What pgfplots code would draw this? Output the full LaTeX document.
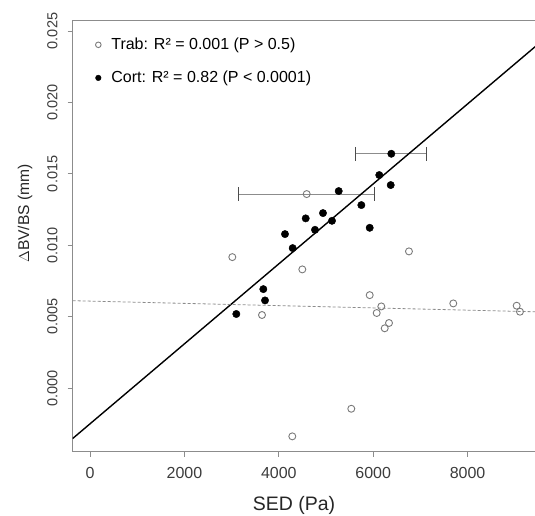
\documentclass[border=0pt]{standalone}
\usepackage{fontspec}
\setmainfont{Liberation Sans}
\usepackage{pgfplots}
\pgfplotsset{compat=1.18}

\definecolor{axgray}{HTML}{8C8C8C}
\definecolor{ptgray}{HTML}{7A7A7A}
\definecolor{txtgray}{HTML}{3C3C3C}

\begin{document}
\begin{tikzpicture}
\begin{axis}[
    name=ax,
    scale only axis,
    width=465.3pt, height=431pt,
    xmin=-367, xmax=9492,
    ymin=-0.004434, ymax=0.02572,
    xtick={0,2000,4000,6000,8000},
    ytick={0,0.005,0.010,0.015,0.020,0.025},
    scaled y ticks=false,
    /pgf/number format/assume math mode=true,
    xticklabel style={/pgf/number format/1000 sep={}, anchor=north, inner sep=0pt,
                      font=\fontsize{16}{16}\selectfont},
    yticklabel style={/pgf/number format/fixed, /pgf/number format/fixed zerofill,
                      /pgf/number format/precision=3, rotate=90, anchor=south, inner sep=0pt,
                      font=\fontsize{14.5}{14.5}\selectfont},
    xticklabel shift=10.8pt,
    yticklabel shift=10pt,
    tick label style={text=txtgray},
    tick align=outside,
    xtick pos=left, ytick pos=left,
    major tick length=5pt,
    tick style={axgray, line width=0.9pt},
    axis line style={axgray, line width=0.9pt},
    xlabel={SED (Pa)},
    ylabel={$\Delta$BV/BS (mm)},
    every axis x label/.style={at={(axis description cs:0.4756,0)}, anchor=center,
                               yshift=-53.3pt, font=\fontsize{19.5}{19.5}\selectfont, text=black!85},
    every axis y label/.style={at={([xshift=-47.7pt]axis description cs:0,0.5527)}, anchor=center,
                               rotate=90, font=\fontsize{15.6}{15.6}\selectfont, text=black!85},
    legend cell align=left,
    legend image code/.code={
      \path[draw=none] (0pt,0pt) -- (19pt,0pt);
      \draw[#1, draw=none, mark size=2.8pt, mark indices={2}]
        plot coordinates {(0pt,0pt) (8pt,0pt) (19pt,0pt)};
    },
    legend style={draw=none, fill=none, at={(axis description cs:0.031,0.969)}, anchor=north west,
                  font=\fontsize{16}{16}\selectfont, row sep=16pt},
  ]

  % horizontal error bars (behind the points)
  \addplot[forget plot, axgray, line width=1pt, mark=|, mark size=7pt,
           mark options={black!70, line width=1pt}]
    coordinates {(3154,0.01359) (6028,0.01359)};
  \addplot[forget plot, axgray, line width=1pt, mark=|, mark size=7pt,
           mark options={black!70, line width=1pt}]
    coordinates {(5632,0.01641) (7136,0.01641)};

  % regression lines
  \addplot[forget plot, black, line width=1.4pt] coordinates {(-367,-0.00351) (9492,0.02407)};
  \addplot[forget plot, axgray, line width=0.8pt, dash pattern=on 3pt off 2pt]
    coordinates {(-367,0.00613) (9492,0.00535)};

  % Trab
  \addplot[only marks, mark=o, mark size=3.5pt, ptgray, mark options={line width=0.9pt}]
    coordinates {
      (4591,0.01359) (3015,0.00918) (6758,0.00958) (4498,0.00832) (5926,0.00652)
      (6172,0.00573) (6074,0.00527) (3644,0.00513) (6335,0.00457) (6244,0.00420)
      (7697,0.00594) (5536,-0.00143) (4286,-0.00336) (9040,0.00578) (9110,0.00536)
    };
  \addlegendentry{Trab: R² = 0.001 (P > 0.5)}

  % Cort
  \addplot[only marks, mark=*, mark size=3.7pt, black]
    coordinates {
      (6384,0.01641) (6129,0.01492) (6371,0.01422) (5269,0.01380) (5749,0.01282)
      (4936,0.01226) (4570,0.01189) (5127,0.01172) (4767,0.01109) (5926,0.01123)
      (4131,0.01079) (4294,0.00981) (3672,0.00694) (3708,0.00615) (3100,0.00520)
    };
  \addlegendentry{Cort: R² = 0.82 (P < 0.0001)}
\end{axis}
\pgfresetboundingbox
\path[use as bounding box] ([xshift=-72.7pt, yshift=-64.3pt]ax.south west)
  rectangle ([xshift=-3pt, yshift=20.7pt]ax.north east);
\end{tikzpicture}
\end{document}
